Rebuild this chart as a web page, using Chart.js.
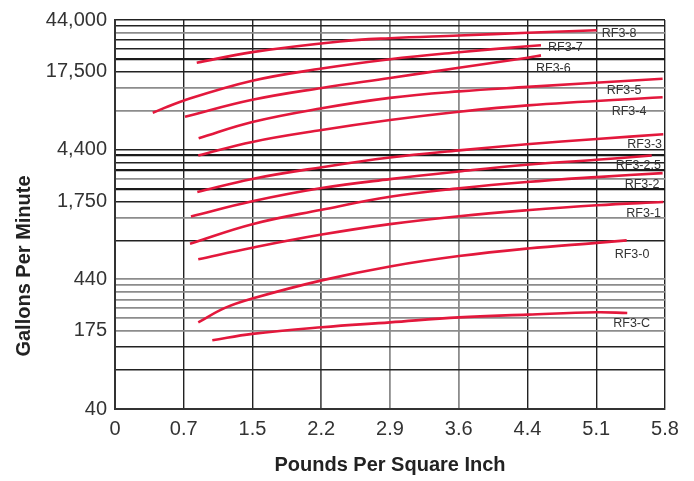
<!DOCTYPE html>
<html>
<head>
<meta charset="utf-8">
<script src="https://cdn.jsdelivr.net/npm/chart.js@4.4.0/dist/chart.umd.min.js"></script>
<style>
  body { margin: 0; background: #fff; }
  #wrap { width: 694px; height: 481px; }
</style>
</head>
<body>
<div id="wrap"><canvas id="grafico" width="694" height="481"></canvas></div>
<script>
// curve names, top to bottom
const seriesNames = ["RF3-8", "RF3-7", "RF3-6", "RF3-5", "RF3-4", "RF3-3", "RF3-2.5", "RF3-2", "RF3-1", "RF3-0", "RF3-C"];

// pressure (psi) / flow (gpm)
const rf38x = [0.862, 1.448, 2.373, 2.900, 3.627, 4.352, 5.080];
const rf38y = [20590, 24880, 30060, 31860, 33410, 35110, 36680];
const rf37x = [0.398, 0.720, 1.448, 2.180, 2.900, 3.627, 4.352, 4.492];
const rf37y = [8472, 10500, 14960, 18580, 21930, 24830, 27610, 28120];
const rf36x = [0.738, 1.448, 2.180, 2.900, 3.627, 4.352, 4.492];
const rf36y = [7895, 10660, 13170, 15720, 18850, 22500, 23470];
const rf35x = [0.882, 1.448, 2.180, 2.900, 3.627, 4.352, 5.775];
const rf35y = [5381, 7190, 9173, 11040, 12385, 13410, 15520];
const rf34x = [0.878, 1.448, 2.180, 2.900, 3.627, 4.352, 5.775];
const rf34y = [3966, 5049, 6237, 7447, 8630, 9661, 11170];
const rf33x = [0.868, 1.448, 2.180, 2.900, 3.627, 4.341, 5.080, 5.782];
const rf33y = [2075, 2618, 3221, 3828, 4345, 4842, 5321, 5781];
const rf325x = [0.801, 1.448, 2.180, 2.900, 3.627, 4.341, 5.080, 5.660];
const rf325y = [1343, 1760, 2226, 2609, 2988, 3365, 3675, 3966];
const rf32x = [0.791, 1.448, 2.180, 2.900, 3.627, 4.341, 5.080, 5.775];
const rf32y = [828, 1172, 1514, 1905, 2213, 2477, 2704, 2900];
const rf31x = [0.878, 1.448, 2.180, 2.900, 3.627, 4.341, 5.080, 5.782];
const rf31y = [629, 772, 974, 1173, 1350, 1501, 1640, 1739];
const rf30x = [0.878, 1.160, 1.448, 2.180, 2.900, 3.627, 4.352, 5.080, 5.396];
const rf30y = [205, 265, 313, 432, 553, 665, 760, 841, 879];
const rf3cx = [1.026, 1.448, 2.180, 2.900, 3.627, 4.352, 5.080, 5.402];
const rf3cy = [149, 167, 188, 205, 224, 235, 245, 242];

const seriesX = [rf38x, rf37x, rf36x, rf35x, rf34x, rf33x, rf325x, rf32x, rf31x, rf30x, rf3cx];
const seriesY = [rf38y, rf37y, rf36y, rf35y, rf34y, rf33y, rf325y, rf32y, rf31y, rf30y, rf3cy];

// axis ticks
const xTickValues = [0, 0.725, 1.45, 2.175, 2.9, 3.625, 4.35, 5.075, 5.8];
const xTickLabels = ["0", "0.7", "1.5", "2.2", "2.9", "3.6", "4.4", "5.1", "5.8"];
const yGridValues = [44, 88, 132, 176, 220, 264, 308, 352, 396,
  440, 880, 1320, 1760, 2200, 2640, 3080, 3520, 3960,
  4400, 8800, 13200, 17600, 22000, 26400, 30800, 35200, 39600, 44000];
const yLabelValues = [44, 176, 440, 1760, 4400, 17600, 44000];
const yLabelTexts = ["40", "175", "440", "1,750", "4,400", "17,500", "44,000"];

// look of the grid (0 = black, 1 = gray, 2 = heavy black)
const yGridTone = [0, 0, 0, 1, 1, 1, 1, 1, 1,
  1, 0, 1, 0, 2, 1, 2, 0, 2,
  0, 1, 1, 0, 2, 0, 0, 1, 0, 0];
const xGridTone = [0, 0, 0, 3, 1, 1, 0, 0, 0];
// label offsets from each curve's last point, px
const labelOffsets = [[5, 3], [7, 2], [-5, 13], [-56, 12], [-51, 14], [-36, 10], [-36, 10], [-38, 11], [-37, 12], [-12, 14], [-14, 11]];

const toneColor = (t) => ["#222", "#8c8c8c", "#1a1a1a", "#555"][t];
const toneWidth = (t) => [1.4, 1.8, 2.2, 1.8][t];

const datasets = seriesNames.map((nome, i) => ({
  label: nome,
  data: seriesX[i].map((x, j) => ({ x: x, y: seriesY[i][j] })),
  borderColor: "#e3183c",
  borderWidth: 2.6,
  pointRadius: 0,
  fill: false,
  tension: 0.4,
}));

const curveLabels = {
  id: "curveLabels",
  afterDatasetsDraw(chart) {
    const ctx = chart.ctx;
    ctx.save();
    ctx.font = "12.5px 'Liberation Sans', Arial, sans-serif";
    ctx.fillStyle = "#333";
    ctx.textAlign = "left";
    ctx.textBaseline = "middle";
    chart.data.datasets.forEach((ds, i) => {
      const pts = chart.getDatasetMeta(i).data;
      const ult = pts[pts.length - 1];
      ctx.fillText(ds.label, ult.x + labelOffsets[i][0], ult.y + labelOffsets[i][1]);
    });
    // y axis title, sits lower than the plot centre in the original
    ctx.font = "bold 20px 'Liberation Sans', Arial, sans-serif";
    ctx.fillStyle = "#222";
    ctx.textAlign = "center";
    ctx.translate(24, 266);
    ctx.rotate(-Math.PI / 2);
    ctx.fillText("Gallons Per Minute", 0, 0);
    ctx.restore();
  },
};

const ctx = document.getElementById("grafico").getContext("2d");
new Chart(ctx, {
  type: "line",
  data: { datasets: datasets },
  options: {
    responsive: false,
    animation: false,
    layout: { padding: { top: 18, right: 29, left: 0, bottom: 0 } },
    plugins: { legend: { display: false }, tooltip: { enabled: false } },
    scales: {
      x: {
        type: "linear",
        min: 0,
        max: 5.8,
        bounds: "data",
        afterFit: (s) => { s.height = 72; },
        afterBuildTicks: (s) => { s.ticks = xTickValues.map((v) => ({ value: v })); },
        ticks: {
          autoSkip: false,
          maxRotation: 0,
          padding: 8,
          color: "#333",
          font: { family: "'Liberation Sans', Arial, sans-serif", size: 20 },
          callback: (v, i) => xTickLabels[i],
        },
        grid: {
          drawTicks: false,
          color: (c) => toneColor(xGridTone[c.index]),
          lineWidth: (c) => toneWidth(xGridTone[c.index]),
        },
        border: { color: "#333", width: 2 },
        title: {
          display: true,
          text: "Pounds Per Square Inch",
          color: "#222",
          font: { family: "'Liberation Sans', Arial, sans-serif", size: 20, weight: "bold" },
          padding: { top: 21 },
        },
      },
      y: {
        type: "logarithmic",
        min: 44,
        max: 44000,
        bounds: "data",
        afterFit: (s) => { s.width = 115; },
        afterBuildTicks: (s) => { s.ticks = yGridValues.map((v) => ({ value: v })); },
        ticks: {
          autoSkip: false,
          padding: 8,
          color: "#333",
          font: { family: "'Liberation Sans', Arial, sans-serif", size: 20 },
          callback: (v) => {
            const k = yLabelValues.indexOf(v);
            return k >= 0 ? yLabelTexts[k] : "";
          },
        },
        grid: {
          drawTicks: false,
          color: (c) => toneColor(yGridTone[c.index]),
          lineWidth: (c) => toneWidth(yGridTone[c.index]),
        },
        border: { color: "#333", width: 2 },
      },
    },
  },
  plugins: [curveLabels],
});
</script>
</body>
</html>
